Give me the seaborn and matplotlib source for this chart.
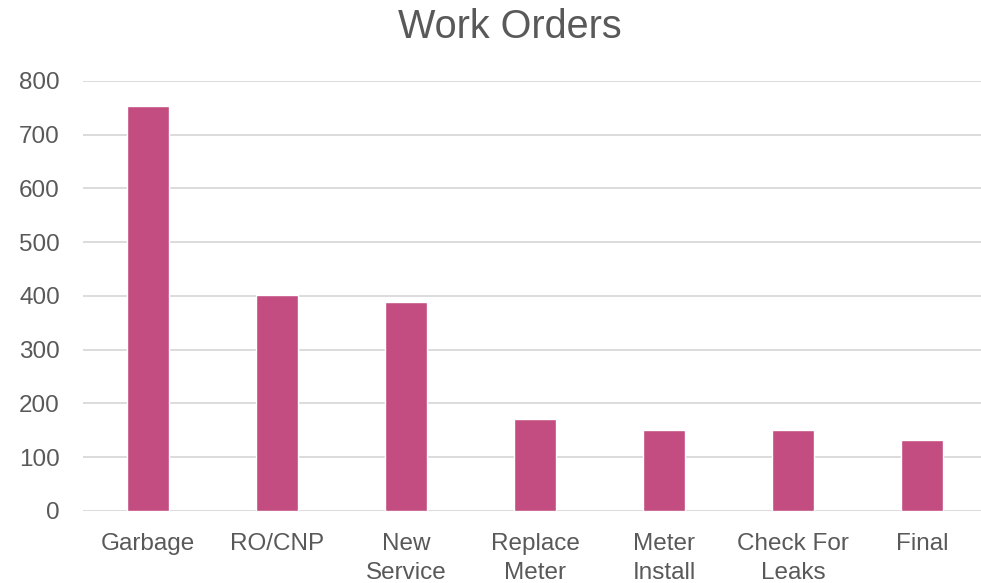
import matplotlib
matplotlib.use("Agg")
import matplotlib.pyplot as plt
import seaborn as sns
import pandas as pd

categories = ["Garbage", "RO/CNP", "New\nService", "Replace\nMeter", "Meter\nInstall", "Check For\nLeaks", "Final"]
values = [753, 401, 389, 172, 150, 150, 132]
yticks = [0, 100, 200, 300, 400, 500, 600, 700, 800]

sns.set_theme(style="white")
plt.rcParams['font.family'] = ['Liberation Sans', 'DejaVu Sans']

df = pd.DataFrame({"cat": categories, "val": values})
fig = plt.figure(figsize=(9.81, 5.83), dpi=100)
ax = fig.add_axes([0.0851, 0.1235, 0.9205, 0.7376])
sns.barplot(data=df, x="cat", y="val", color="#C34C80", width=0.32, saturation=1, ax=ax)
ax.set_ylim(0, 800)
ax.set_yticks(yticks)
ax.set_xlim(-0.5, len(categories) - 0.5)
ax.grid(axis="y", color="#D9D9D9", linewidth=1.3)
ax.set_axisbelow(True)
for s in ax.spines.values():
    s.set_visible(False)
ax.set_xlabel("")
ax.set_ylabel("")
ax.tick_params(axis="both", length=0, colors="#595959", labelsize=17.5)
ax.tick_params(axis="x", pad=16)
ax.tick_params(axis="y", pad=17)
for lbl in ax.get_xticklabels():
    lbl.set_linespacing(1.4)
fig.text(0.52, 0.953, "Work Orders", fontsize=28.5, color="#595959", ha="center", va="center")
fig.savefig("out.png", dpi=100)
